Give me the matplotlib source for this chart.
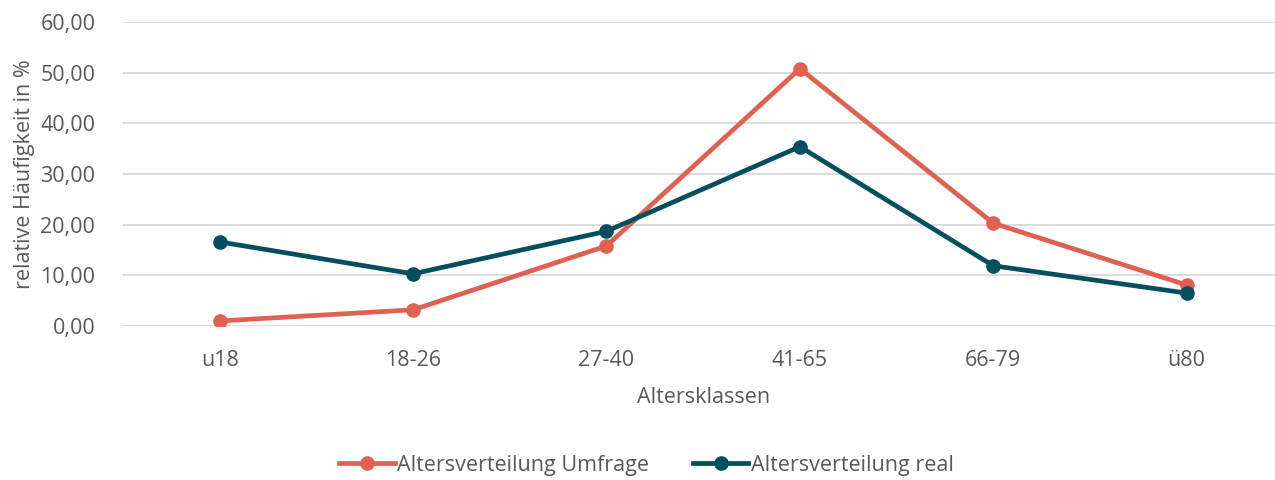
import matplotlib.pyplot as plt

# Altersklassen und relative Haeufigkeiten (in %)
klassen = ['u18', '18-26', '27-40', '41-65', '66-79', 'ü80']
umfrage = [1.0, 3.2, 15.8, 50.8, 20.3, 8.1]
real = [16.6, 10.3, 18.7, 35.4, 11.9, 6.5]

plt.rcParams['font.family'] = ['Open Sans', 'DejaVu Sans']
grau = '#595959'
fs = 15.5

fig = plt.figure(figsize=(12.75, 4.8), dpi=100)
ax = fig.add_axes([0.0965, 0.3208, 0.91, 0.6333])

x = range(len(klassen))
ax.plot(x, umfrage, color='#E06152', lw=3.4, marker='o', ms=9.5,
        label='Altersverteilung Umfrage', zorder=3)
ax.plot(x, real, color='#034F5E', lw=3.4, marker='o', ms=9.5,
        label='Altersverteilung real', zorder=4)

ax.set_xlim(-0.5, 5.5)
ax.set_ylim(0, 60)
ax.set_yticks(range(0, 61, 10))
ax.set_yticklabels(['%d,00' % v for v in range(0, 61, 10)])
ax.set_xticks(list(x))
ax.set_xticklabels(klassen)
ax.grid(axis='y', color='#D9D9D9', lw=1.3)
ax.set_axisbelow(True)
for s in ax.spines.values():
    s.set_visible(False)
ax.tick_params(length=0, labelsize=fs, colors=grau)
ax.tick_params(axis='y', pad=20)
ax.tick_params(axis='x', pad=17)

ax.set_xlabel('Altersklassen', fontsize=fs, color=grau, labelpad=12)
ax.set_ylabel('relative Häufigkeit in %', fontsize=fs, color=grau, labelpad=4)

leg = fig.legend(loc='center', bbox_to_anchor=(0.507, 0.031), ncol=2,
                 frameon=False, fontsize=fs, handlelength=2.6,
                 handletextpad=0.1, columnspacing=2.0)
for t in leg.get_texts():
    t.set_color(grau)

fig.savefig('out.png', dpi=100)
